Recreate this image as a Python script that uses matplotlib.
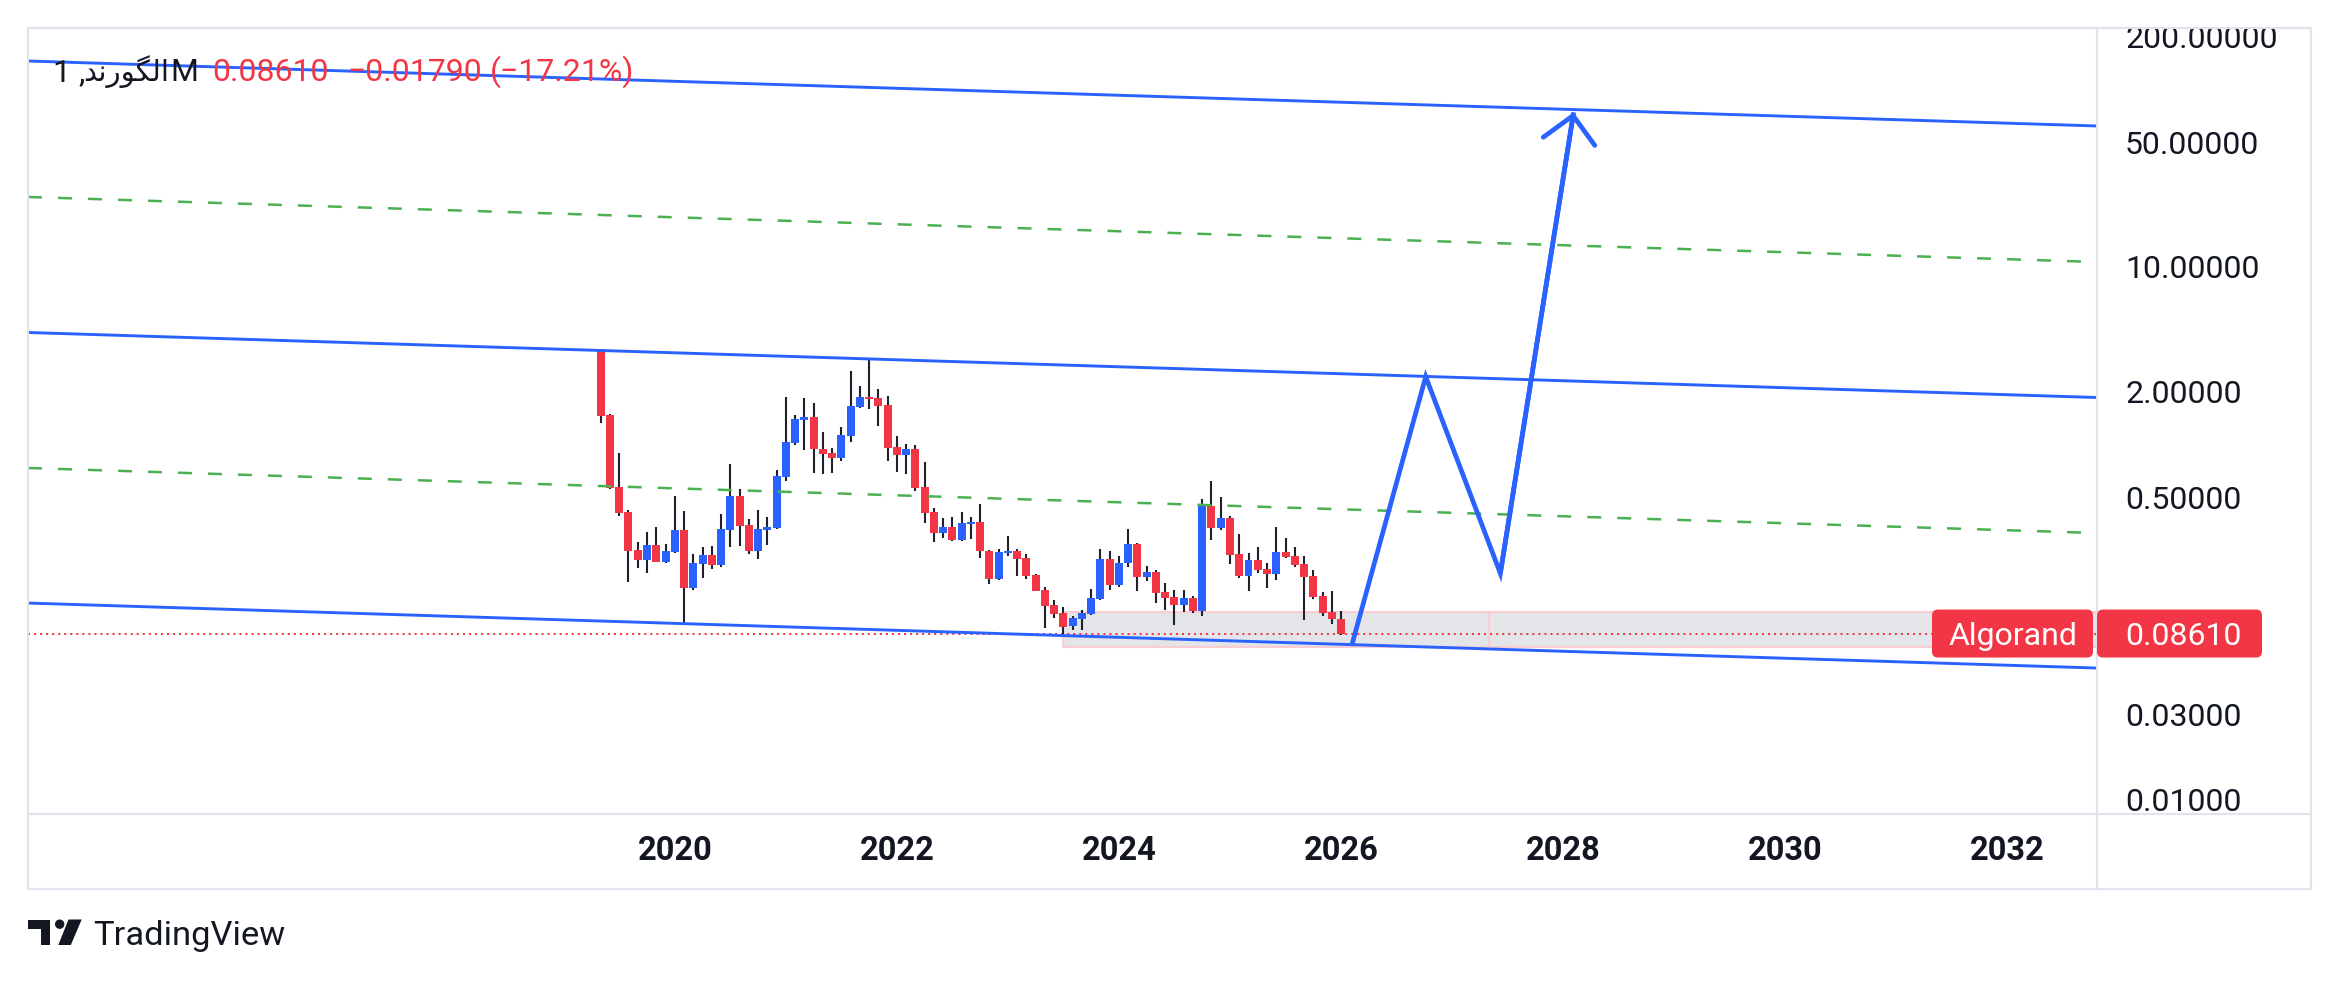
"""
Algorand monthly candles on a log price scale with the drawn channel,
the price zone and the projected zig-zag path, TradingView look.
"""
import numpy as np
import pandas as pd
import matplotlib
matplotlib.use('Agg')
import matplotlib.pyplot as plt
from matplotlib.patches import Rectangle, FancyBboxPatch, Polygon, Circle
from matplotlib.lines import Line2D
from matplotlib.transforms import IdentityTransform
from matplotlib.ticker import FixedLocator, FuncFormatter, NullLocator

plt.rcParams['font.family'] = ['Roboto', 'DejaVu Sans']

W, H = 2338, 982
RED = '#F23645'
BLUE = '#2962FF'
GREEN = '#4CAF50'
INK = '#131722'
GRID = '#E0E3EB'

# monthly candles, Jun 2019 .. Feb 2026
months = pd.date_range('2019-06-01', periods=81, freq='MS')
opens = [3.451, 1.466, 0.5763, 0.4166, 0.2544, 0.2245, 0.2715, 0.2187, 0.2490, 0.3298,
         0.1561, 0.2132, 0.2385, 0.2104, 0.3312, 0.5126, 0.3520, 0.2522, 0.3312, 0.3400,
         0.6590, 1.020, 1.380, 1.429, 0.9433, 0.8956, 0.8393, 1.117, 1.626, 1.852,
         1.828, 1.669, 0.9681, 0.8727, 0.9433, 0.5763, 0.4166, 0.3172, 0.3429, 0.2897,
         0.3565, 0.3659, 0.2522, 0.1754, 0.2458, 0.2512, 0.2294, 0.1840, 0.1515, 0.1247,
         0.1124, 0.0954, 0.1044, 0.1114, 0.1353, 0.2264, 0.1623, 0.2150, 0.2750, 0.1800,
         0.1913, 0.1476, 0.1383, 0.1252, 0.1365, 0.1158, 0.4502, 0.3400, 0.3854, 0.2416,
         0.1824, 0.2235, 0.1988, 0.1872, 0.2480, 0.2353, 0.2122, 0.1816, 0.1401, 0.1138,
         0.1040]
highs = [3.451, 1.479, 0.8956, 0.4275, 0.2822, 0.3213, 0.3429, 0.2750, 0.5126, 0.4219,
         0.2416, 0.2646, 0.2681, 0.4059, 0.7764, 0.5615, 0.3805, 0.4275, 0.3904, 0.7185,
         1.852, 1.466, 1.828, 1.713, 1.176, 0.9556, 1.255, 2.595, 2.136, 3.032,
         2.054, 1.876, 1.117, 1.0065, 0.9935, 0.7970, 0.4387, 0.3854, 0.3904, 0.4166,
         0.3904, 0.4621, 0.2544, 0.2580, 0.3051, 0.2577, 0.2416, 0.1864, 0.1575, 0.1330,
         0.1215, 0.1081, 0.1168, 0.1534, 0.2577, 0.2512, 0.2353, 0.3341, 0.2770, 0.2068,
         0.1963, 0.1658, 0.1515, 0.1515, 0.1401, 0.4931, 0.6226, 0.5060, 0.3955, 0.3131,
         0.2447, 0.2646, 0.2150, 0.3429, 0.2973, 0.2646, 0.2353, 0.1963, 0.1476, 0.1495,
         0.1153]
lows = [1.327, 0.5639, 0.3972, 0.1687, 0.2024, 0.1896, 0.2170, 0.2159, 0.2450, 0.0991,
        0.1521, 0.1777, 0.1998, 0.2050, 0.2658, 0.2693, 0.2427, 0.2274, 0.2727, 0.3350,
        0.6256, 0.9935, 0.9312, 0.6910, 0.6821, 0.6910, 0.8074, 1.033, 1.606, 1.585,
        1.271, 0.8074, 0.6999, 0.6821, 0.5470, 0.3612, 0.2822, 0.2973, 0.2859, 0.2859,
        0.2935, 0.2304, 0.1644, 0.1730, 0.2364, 0.1824, 0.1754, 0.1490, 0.0929, 0.1058,
        0.0850, 0.0905, 0.0905, 0.1100, 0.1330, 0.1521, 0.1582, 0.2050, 0.1502, 0.1709,
        0.1285, 0.1174, 0.0966, 0.1143, 0.1129, 0.1085, 0.2909, 0.3312, 0.2132, 0.1777,
        0.1502, 0.1896, 0.1561, 0.1732, 0.2294, 0.2050, 0.1031, 0.1353, 0.1085, 0.0979,
        0.0848]
closes = [1.454, 0.5713, 0.4130, 0.2522, 0.2245, 0.2715, 0.2187, 0.2512, 0.3298, 0.1561,
          0.2150, 0.2385, 0.2104, 0.3341, 0.5126, 0.3489, 0.2522, 0.3341, 0.3429, 0.6647,
          1.033, 1.392, 1.429, 0.9433, 0.8841, 0.8393, 1.131, 1.648, 1.852, 1.805,
          1.648, 0.9556, 0.8727, 0.9433, 0.5688, 0.4112, 0.3172, 0.3429, 0.2897, 0.3612,
          0.3659, 0.2522, 0.1754, 0.2480, 0.2501, 0.2274, 0.1824, 0.1502, 0.1236, 0.1114,
          0.0941, 0.1058, 0.1124, 0.1365, 0.2264, 0.1623, 0.2150, 0.2750, 0.1800, 0.1913,
          0.1463, 0.1371, 0.1252, 0.1365, 0.1158, 0.4502, 0.3400, 0.3854, 0.2395, 0.1824,
          0.2235, 0.1971, 0.1872, 0.2480, 0.2324, 0.2104, 0.1800, 0.1389, 0.1129, 0.1040,
          0.0861]

# drawn trend lines, price at the left and right edge of the chart
line_t = [2014.259, 2032.882]
blue_lines = [[144.7, 62.3], [4.276, 1.840], [0.1279, 0.05506]]
green_lines = [[24.8, 10.67], [0.7373, 0.3172]]

# projected path and its arrow tip
path_t = [2026.183, 2026.846, 2027.518, 2028.178]
path_p = [0.0752, 2.41, 0.188, 74.4]

# support zone
zone_t0 = 2023.575
zone_lo, zone_hi = 0.0726, 0.1143
zone_mark_t = 2027.419

last_price = 0.0861
year_ticks = [2020, 2022, 2024, 2026, 2028, 2030, 2032]
price_ticks = [0.01, 0.03, 0.5, 2, 10, 50, 200]

title_name = 'الگورند'
# pre-shaped, left-to-right visual form of the name (no shaping in Agg)
title_name_visual = '\uFEAA\uFEE7\uFEAD\uFEEE\uFB95\uFEDF\uFE8D'


def fx(px):
    return px / W


def fy(py):
    return 1 - py / H


fig = plt.figure(figsize=(W / 100, H / 100), dpi=100)
fig.patch.set_facecolor('white')
ax = fig.add_axes([fx(28), fy(814), fx(2097) - fx(28), fy(28) - fy(814)])
ax.set_yscale('log')
ax.set_xlim(2014.259, 2032.891)
ax.set_ylim(0.008288, 222.0)
for s in ax.spines.values():
    s.set_visible(False)

t = np.array(months.year + (months.month - 1) / 12.0, dtype=float)
o = np.array(opens)
h = np.array(highs)
l = np.array(lows)
c = np.array(closes)
up = c >= o
bot = np.minimum(o, c)
top = np.maximum(np.maximum(o, c), bot * 1.014)
colors = np.where(up, BLUE, RED)

ax.vlines(t, l, h, color='#1E222D', lw=1.5, zorder=2)
ax.bar(t, top - bot, bottom=bot, width=0.072, color=colors, lw=0, zorder=3)

# zone
ax.add_patch(Rectangle((zone_t0, zone_lo), 2032.891 - zone_t0, zone_hi - zone_lo,
                       facecolor='#E4E5E9', edgecolor='#F9CDD2', lw=1.5, zorder=1))
ax.plot([zone_mark_t, zone_mark_t], [zone_lo, zone_hi], color='#F9CDD2', lw=1.5, zorder=1)

ax.axhline(last_price, color=RED, lw=1.45, ls=(0, (1, 2)), zorder=1.5)

for p in blue_lines:
    ax.plot(line_t, p, color=BLUE, lw=2.1, zorder=4, solid_capstyle='butt')
for p in green_lines:
    ax.plot(line_t, p, color=GREEN, lw=1.8, zorder=4, ls=(0, (5.6, 6.4)),
            dash_capstyle='butt')

ax.plot(path_t, path_p, color=BLUE, lw=3.4, zorder=5,
        solid_joinstyle='miter', solid_capstyle='butt')
ax.annotate('', xy=(path_t[-1], path_p[-1]), xytext=(path_t[-2], path_p[-2]),
            arrowprops=dict(arrowstyle='->,head_length=0.94,head_width=0.94',
                            mutation_scale=20, color=BLUE, lw=3.4,
                            shrinkA=0, shrinkB=0), zorder=5)

# axes ticks
ax.yaxis.tick_right()
ax.yaxis.set_major_locator(FixedLocator(price_ticks))
ax.yaxis.set_minor_locator(NullLocator())
ax.yaxis.set_major_formatter(FuncFormatter(lambda v, pos: '{:.5f}'.format(v)))
ax.tick_params(axis='y', length=0, pad=20.2, labelsize=23, labelcolor=INK)
# labels sit one bar right of January, as in the source
ax.set_xticks(np.array(year_ticks) + 1 / 12.0)
ax.set_xticklabels([str(y) for y in year_ticks], fontweight='bold')
ax.tick_params(axis='x', length=0, pad=15.3, labelsize=23.5, labelcolor=INK)

# frame
for xs, ys in [([28, 2311, 2311, 28, 28], [28, 28, 889, 889, 28]),
               ([2097, 2097], [28, 889]),
               ([28, 2311], [814, 814])]:
    fig.add_artist(Line2D([fx(v) for v in xs], [fy(v) for v in ys],
                          color=GRID, lw=1.5, zorder=9))
fig.add_artist(Rectangle((0, fy(27)), 1, 1 - fy(27), transform=fig.transFigure,
                         facecolor='white', edgecolor='none', zorder=8))

# price labels on the current price
fig.canvas.draw()
renderer = fig.canvas.get_renderer()
yp = ax.transData.transform((2020, last_price))[1]
ident = IdentityTransform()
fig.add_artist(FancyBboxPatch((1932, yp - 24), 161, 48,
                              boxstyle='round,pad=0,rounding_size=6',
                              facecolor=RED, edgecolor='none', transform=ident, zorder=10))
fig.add_artist(FancyBboxPatch((2097, yp - 24), 165, 48,
                              boxstyle='round,pad=0,rounding_size=6',
                              facecolor=RED, edgecolor='none', transform=ident, zorder=10))
fig.text(2012.5, yp, 'Algorand', color='white', fontsize=23, ha='center',
         va='center_baseline', transform=ident, zorder=11)
fig.text(2125, yp, '{:.5f}'.format(last_price), color='white', fontsize=23,
         ha='left', va='center_baseline', transform=ident, zorder=11)

# title: "1 ," + name + "M", then the red values
base = fy(81)
fig.text(fx(53), base, '1 ,', color=INK, fontsize=23, va='baseline', zorder=11)
name_txt = fig.text(fx(83), base, title_name_visual, color=INK, fontsize=23,
                    family='DejaVu Sans', va='baseline', zorder=11)
nw = name_txt.get_window_extent(renderer).width
name_txt.set_fontsize(23 * 86.0 / nw)
nw = name_txt.get_window_extent(renderer).width
fig.text(fx(83 + nw + 1), base, 'M', color=INK, fontsize=23, va='baseline', zorder=11)
fig.text(fx(212), base, '0.08610', color=RED, fontsize=23, va='baseline', zorder=11)
fig.text(fx(347), base, '\u22120.01790', color=RED, fontsize=23, va='baseline', zorder=11)
fig.text(fx(490), base, '(\u221217.21%)', color=RED, fontsize=23, va='baseline', zorder=11)


# TradingView mark
def fig_poly(pts, **kw):
    fig.add_artist(Polygon([(x, H - y) for x, y in pts], closed=True,
                           transform=ident, **kw))


fig_poly([(28, 919.5), (50, 919.5), (50, 945), (41, 945), (41, 929), (28, 929)],
         facecolor=INK, edgecolor='none')
fig.add_artist(Circle((59.7, H - 924.2), 4.7, transform=ident, facecolor=INK,
                      edgecolor='none'))
fig_poly([(68.5, 919.5), (81.7, 919.5), (70.8, 945), (58.3, 945)],
         facecolor=INK, edgecolor='none')
fig.text(fx(93), fy(945), 'TradingView', color=INK, fontsize=24.8, va='baseline')

fig.savefig('out.png', dpi=100, facecolor='white')
